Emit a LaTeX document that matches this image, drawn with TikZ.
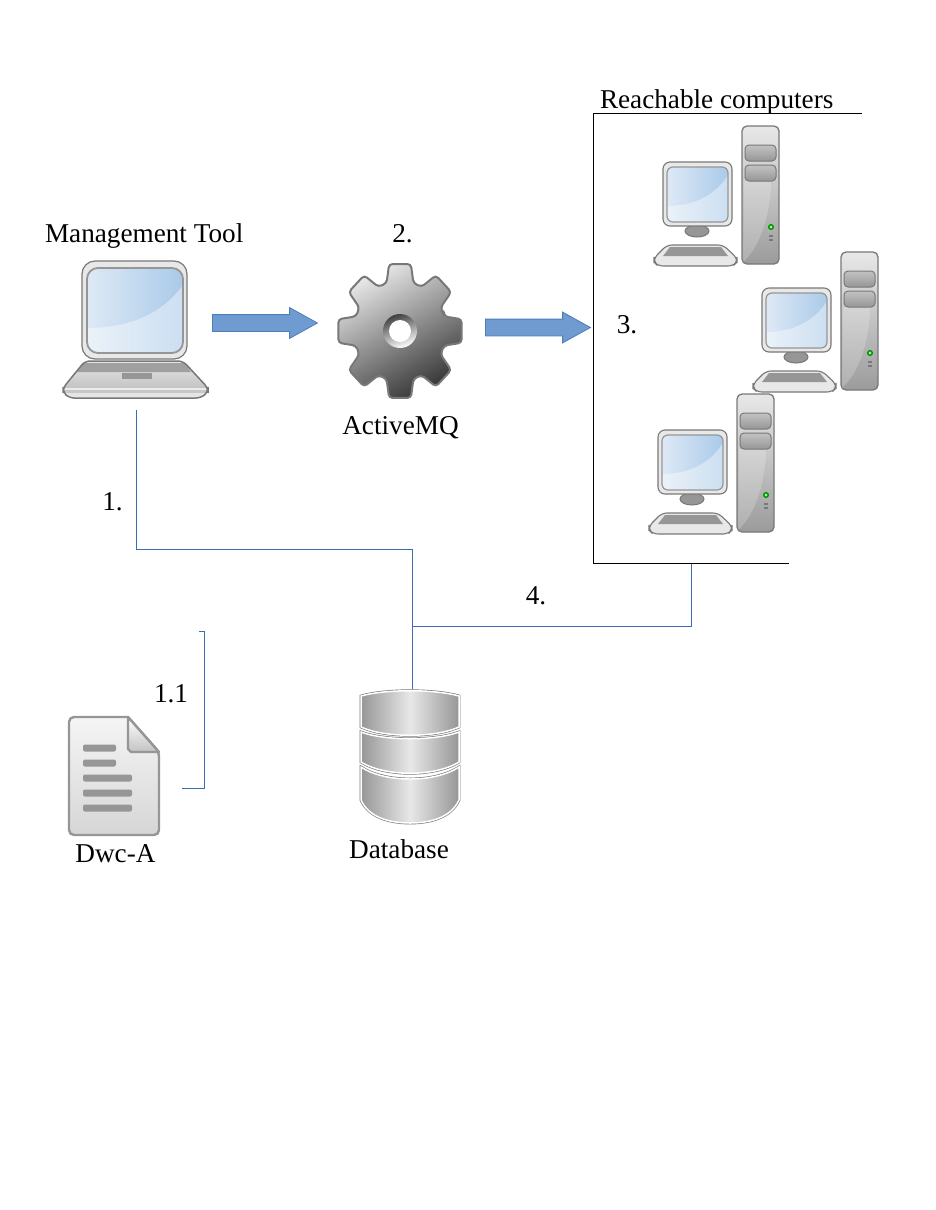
\documentclass[tikz,border=0pt]{standalone}
\usepackage{fontspec}
\setmainfont{Liberation Serif}
\usepackage{tikz}
\usetikzlibrary{shapes.arrows}
\definecolor{linkColor}{RGB}{58,108,176}
\definecolor{arrowFill}{RGB}{112,155,208}
\definecolor{arrowEdge}{RGB}{74,126,187}
\definecolor{iconEdge}{RGB}{150,150,150}
\definecolor{darkEdge}{RGB}{120,120,120}
\definecolor{glassDark}{RGB}{170,202,233}
\definecolor{glassLight}{RGB}{222,233,245}
\definecolor{bodyLight}{RGB}{232,232,232}
\definecolor{bodyMid}{RGB}{195,195,195}
\definecolor{bodyDark}{RGB}{150,150,150}
\tikzset{
  lbl/.style={text=black,inner sep=0pt,outer sep=0pt,font=\fontsize{27.2}{30}\selectfont},
  link/.style={draw=linkColor,line width=1pt,line join=miter},
  frameline/.style={draw=black,line width=1pt},
  icon/.style={inner sep=0pt,outer sep=0pt},
  blockarrow/.style={shape=single arrow,draw=arrowEdge,fill=arrowFill,line width=0.8pt,inner xsep=0pt,inner ysep=8pt,
    minimum height=105pt,minimum width=30pt,single arrow head extend=7pt,
    single arrow head indent=0pt,single arrow tip angle=58,anchor=tail},
  dbdisk/.style={preaction={draw=darkEdge,line width=2.8pt},draw=white,line width=1.5pt,
    left color=bodyDark,right color=bodyDark,middle color=bodyLight},
}
\newcommand{\laptopicon}[1]{%
\begin{scope}[shift={(#1.center)}]
\begin{scope}
\path[clip,rounded corners=5pt] (-50,31) -- (48,31) -- (73,58) -- (73,62) -- (66,68) -- (-66,68) -- (-72,62) -- (-72,58) -- cycle;
\fill[top color=bodyLight,bottom color=bodyMid] (-74,30) rectangle (74,58);
\fill[bodyDark!90!white] (-52,33) -- (50,33) -- (56,42) -- (-58,42) -- cycle;
\fill[white!92!black] (-74,58) rectangle (74,60);
\fill[white!78!black] (-74,60) rectangle (74,63);
\fill[white!90!black] (-74,63) rectangle (74,69);
\end{scope}
\path[draw=darkEdge,line width=1.5pt,rounded corners=5pt] (-50,31) -- (48,31) -- (73,58) -- (73,62) -- (66,68) -- (-66,68) -- (-72,62) -- (-72,58) -- cycle;
\fill[bodyDark] (-13,43) rectangle (17,49);
\path[draw=darkEdge,line width=1.2pt,fill=bodyLight,rounded corners=13pt] (-53,-69) rectangle (52,29);
\begin{scope}
\path[clip,rounded corners=11pt] (-48,-62) rectangle (48,23);
\fill[left color=glassLight,right color=glassDark] (-48,-62) rectangle (48,23);
\fill[white,opacity=0.4] (-48,-2) .. controls (0,-2) and (30,-20) .. (48,-45) -- (48,23) -- (-48,23) -- cycle;
\end{scope}
\path[draw=bodyDark,line width=1.8pt,rounded corners=11pt] (-48,-62) rectangle (48,23);
\end{scope}}
\newcommand{\gearicon}[1]{%
\begin{scope}[shift={(#1.center)}]
\path[draw=darkEdge,line width=2pt,rounded corners=3.5pt,top color=bodyLight,bottom color=black!78,shading angle=30,xscale=0.92]
  (-17:50) \foreach \a in {0,45,...,315} { -- (\a-17:50) -- (\a-10:68) -- (\a+10:68) -- (\a+17:50) } -- cycle;
\shade[top color=black!75,bottom color=white,shading angle=20] (0,0) circle (17);
\fill[white] (0,0) circle (11);
\end{scope}}
\newcommand{\pcicon}[1]{%
\begin{scope}[shift={(#1.center)}]
\path[draw=darkEdge,line width=1.1pt,fill=bodyLight,rounded corners=5pt] (-49,49) -- (7,49) -- (21,62) -- (21,66) -- (17,70) -- (-58,70) -- (-62,66) -- (-62,62) -- cycle;
\fill[bodyDark] (-46,51) -- (5,51) -- (12,60) -- (-53,60) -- cycle;
\path[draw=darkEdge,line width=1pt,fill=bodyDark] (-19,35) ellipse (12 and 6);
\path[draw=darkEdge,line width=1.1pt,fill=bodyLight,rounded corners=7pt] (-53,-34) rectangle (16,30);
\begin{scope}
\path[clip,rounded corners=6pt] (-49,-29) rectangle (12,26);
\fill[left color=glassLight,right color=glassDark] (-49,-29) rectangle (12,26);
\fill[white,opacity=0.4] (-49,10) .. controls (-20,10) and (0,-2) .. (12,-21) -- (12,26) -- (-49,26) -- cycle;
\end{scope}
\path[draw=bodyDark,line width=1.2pt,rounded corners=6pt] (-49,-29) rectangle (12,26);
\path[draw=darkEdge,line width=1.3pt,rounded corners=5pt,top color=bodyLight,bottom color=bodyDark!95!white] (26,-70) rectangle (63,68);
\fill[white,opacity=0.2] (27,66) .. controls (45,50) and (53,20) .. (55,-9) -- (55,-15) -- (28,-15) -- cycle;
\path[draw=darkEdge,line width=1pt,top color=bodyMid,bottom color=bodyDark,rounded corners=4pt] (29,-51) rectangle (60,-35);
\path[draw=darkEdge,line width=1pt,top color=bodyMid,bottom color=bodyDark,rounded corners=4pt] (29,-31) rectangle (60,-15);
\fill[green!55!black] (55,31) circle (3);
\fill[green!45!white] (55,31) circle (1.6);
\fill[darkEdge] (53,39) rectangle (57,41);
\fill[darkEdge] (53,43) rectangle (57,45);
\end{scope}}
\newcommand{\docicon}[1]{%
\begin{scope}[shift={(#1.center)}]
\path[draw=iconEdge,line width=2.4pt,top color=white!96!black,bottom color=black!16,rounded corners=5pt] (14,-59) -- (-45,-59) -- (-45,59) -- (45,59) -- (45,-24) -- (14,-59);
\path[draw=iconEdge,line width=2.4pt,top color=white,bottom color=bodyMid,line join=round] (14,-59) -- (45,-24) -- (17,-24) -- (14,-27) -- cycle;
\foreach \y in {-28,-13} {\fill[iconEdge,rounded corners=2pt] (-31,\y-3.5) rectangle (2,\y+3.5);}
\foreach \y in {2,17,32} {\fill[iconEdge,rounded corners=2pt] (-31,\y-3.5) rectangle (18,\y+3.5);}
\end{scope}}
\newcommand{\dbicon}[1]{%
\begin{scope}[shift={(#1.center)}]
\path[dbdisk] (-49,11) .. controls (-25,27) and (25,27) .. (49,11) -- (49,44) .. controls (40,64) and (15,67) .. (0,67) .. controls (-15,67) and (-40,64) .. (-49,44) -- cycle;
\path[dbdisk] (-49,-24) .. controls (-25,-15) and (25,-15) .. (49,-24) -- (49,6) .. controls (25,21) and (-25,21) .. (-49,6) -- cycle;
\path[dbdisk] (-49,-60) .. controls (-25,-67) and (25,-67) .. (49,-60) -- (49,-29) .. controls (25,-18) and (-25,-18) .. (-49,-29) -- cycle;
\end{scope}}
\begin{document}
\begin{tikzpicture}[x=1pt,y=-1pt]
\path[use as bounding box,fill=white] (0,0) rectangle (935,1210);

\node[icon,minimum width=146pt,minimum height=137pt] (tool) at (135,330) {};
\node[icon,minimum width=126pt,minimum height=138pt] (queue) at (400,331) {};
\node[icon,minimum width=125pt,minimum height=140pt] (pcA) at (716,196) {};
\node[icon,minimum width=125pt,minimum height=140pt] (pcB) at (815,322) {};
\node[icon,minimum width=125pt,minimum height=140pt] (pcC) at (711,464) {};
\node[icon,minimum width=90pt,minimum height=118pt] (archive) at (114,776) {};
\node[icon,minimum width=98pt,minimum height=134pt] (store) at (410,756) {};

\laptopicon{tool}
\gearicon{queue}
\pcicon{pcA}
\pcicon{pcB}
\pcicon{pcC}
\docicon{archive}
\dbicon{store}

\node[blockarrow] (sendA) at (212,323) {};
\node[blockarrow] (sendB) at (485,327.5) {};

\coordinate (toolEnd) at (136,410);
\coordinate (busA) at (412,549);
\coordinate (busB) at (412,626);
\coordinate (frameEnd) at (691,563);
\coordinate (frameNW) at (593,113);
\coordinate (frameNE) at (862,113);
\coordinate (frameSW) at (593,563);
\coordinate (frameSE) at (789,563);
\coordinate (loadA) at (199,631);
\coordinate (loadB) at (204,631);
\coordinate (loadC) at (204,788);
\coordinate (loadD) at (182,788);

\path[link] (toolEnd) |- (busA) -- (busA |- store.north);
\path[link] (busB) -| (frameEnd);
\path[link] (loadA) -- (loadB) -- (loadC) -- (loadD);
\path[frameline] (frameNE) -- (frameNW) -- (frameSW) -- (frameSE);

\node[lbl,anchor=base west] (toolLbl) at (45,242) {Management Tool};
\node[lbl,anchor=base] (stepTwo) at (402.5,242) {2.};
\node[lbl,anchor=base] (queueLbl) at (400.5,434) {ActiveMQ};
\node[lbl,anchor=base west] (reachLbl) at (600,108) {Reachable computers};
\node[lbl,anchor=base] (stepThree) at (627,333) {3.};
\node[lbl,anchor=base] (stepOne) at (112.5,510) {1.};
\node[lbl,anchor=base] (stepFour) at (536,604) {4.};
\node[lbl,anchor=base] (stepLoad) at (171,702) {1.1};
\node[lbl,anchor=base] (archiveLbl) at (115.5,862) {Dwc-A};
\node[lbl,anchor=base] (storeLbl) at (399,858) {Database};
\end{tikzpicture}
\end{document}
